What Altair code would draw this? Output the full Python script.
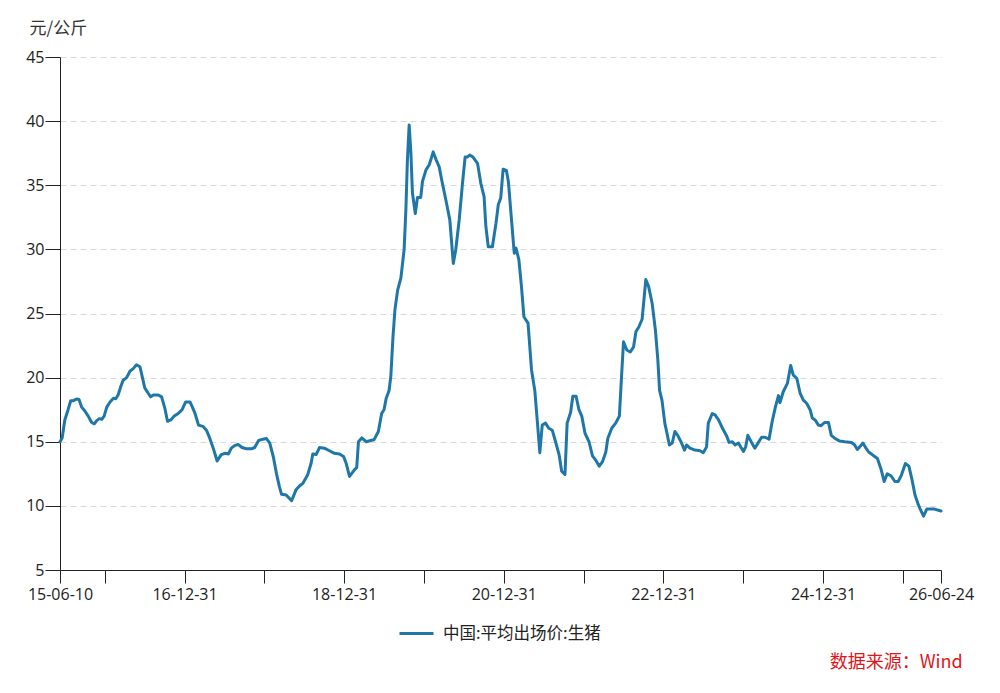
import altair as alt
import pandas as pd

dates = [
"2015-06-10","2015-06-20","2015-07-02","2015-07-17","2015-07-29","2015-08-10","2015-08-25","2015-09-05","2015-09-17","2015-10-02",
"2015-10-17","2015-11-02","2015-11-14","2015-11-25","2015-12-07","2015-12-18","2015-12-29","2016-01-10","2016-01-25","2016-02-10",
"2016-02-20","2016-03-02","2016-03-14","2016-03-25","2016-04-10","2016-04-25","2016-05-10","2016-05-25","2016-06-10","2016-06-20",
"2016-07-02","2016-07-17","2016-07-29","2016-08-10","2016-09-02","2016-09-17","2016-10-02","2016-10-14","2016-10-29","2016-11-14",
"2016-12-02","2016-12-20","2017-01-05","2017-01-25","2017-02-05","2017-02-17","2017-03-05","2017-03-25","2017-04-10","2017-04-25",
"2017-05-14","2017-05-29","2017-06-17","2017-07-05","2017-07-20","2017-08-02","2017-08-17","2017-09-02","2017-09-20","2017-10-10",
"2017-11-02","2017-11-17","2017-12-05","2017-12-25","2018-01-10","2018-01-25","2018-02-10","2018-02-25","2018-03-10","2018-03-20",
"2018-04-10","2018-05-05","2018-05-25","2018-06-10","2018-06-25","2018-07-17","2018-08-02","2018-08-10","2018-08-25","2018-09-10",
"2018-10-02","2018-10-25","2018-11-17","2018-12-10","2018-12-29","2019-01-10","2019-01-25","2019-02-14","2019-02-27","2019-03-07",
"2019-03-22","2019-04-12","2019-05-02","2019-05-17","2019-06-06","2019-06-21","2019-07-02","2019-07-12","2019-07-25","2019-08-02",
"2019-08-12","2019-08-21","2019-09-02","2019-09-17","2019-10-02","2019-10-10","2019-10-17","2019-10-25","2019-11-02","2019-11-09",
"2019-11-22","2019-12-02","2019-12-17","2019-12-25","2020-01-10","2020-01-25","2020-02-12","2020-02-25","2020-03-10","2020-03-25",
"2020-04-10","2020-04-28","2020-05-14","2020-05-25","2020-06-10","2020-06-25","2020-07-07","2020-07-17","2020-07-28","2020-08-12",
"2020-09-02","2020-09-17","2020-10-02","2020-10-10","2020-10-21","2020-11-09","2020-11-25","2020-12-06","2020-12-17","2020-12-28",
"2021-01-12","2021-01-21","2021-02-02","2021-02-12","2021-02-17","2021-02-25","2021-03-10","2021-03-22","2021-04-02","2021-04-21",
"2021-05-07","2021-05-22","2021-06-02","2021-06-14","2021-06-25","2021-07-10","2021-07-25","2021-08-10","2021-08-25","2021-09-10",
"2021-09-22","2021-10-07","2021-10-17","2021-11-02","2021-11-12","2021-11-27","2021-12-10","2021-12-23","2022-01-07","2022-01-25",
"2022-02-10","2022-02-27","2022-03-13","2022-03-28","2022-04-12","2022-04-21","2022-05-09","2022-05-27","2022-06-13","2022-06-22",
"2022-07-02","2022-07-17","2022-08-02","2022-08-17","2022-08-28","2022-09-10","2022-09-25","2022-10-02","2022-10-12","2022-10-25",
"2022-11-10","2022-11-25","2022-12-06","2022-12-14","2022-12-25","2023-01-07","2023-01-17","2023-01-28","2023-02-10","2023-02-22",
"2023-03-07","2023-03-22","2023-04-07","2023-04-17","2023-05-02","2023-05-25","2023-06-17","2023-07-02","2023-07-17","2023-07-25",
"2023-08-12","2023-08-25","2023-09-10","2023-09-28","2023-10-17","2023-10-28","2023-11-12","2023-11-25","2023-12-10","2023-12-22",
"2024-01-02","2024-01-12","2024-01-22","2024-02-08","2024-02-23","2024-03-07","2024-03-25","2024-04-10","2024-04-28","2024-05-12",
"2024-05-27","2024-06-10","2024-06-17","2024-07-02","2024-07-21","2024-08-05","2024-08-17","2024-09-02","2024-09-17","2024-10-02",
"2024-10-17","2024-11-02","2024-11-12","2024-11-25","2024-12-10","2024-12-22","2025-01-07","2025-01-25","2025-02-07","2025-02-25",
"2025-03-17","2025-04-10","2025-05-10","2025-05-25","2025-06-06","2025-06-17","2025-07-02","2025-07-12","2025-07-28","2025-08-17",
"2025-09-06","2025-09-22","2025-10-07","2025-10-21","2025-11-07","2025-11-25","2025-12-10","2025-12-25","2026-01-12","2026-01-28",
"2026-02-10","2026-02-25","2026-03-10","2026-03-22","2026-04-05","2026-04-20","2026-05-10","2026-05-25","2026-06-24",
]

prices = [
15.0,15.3,16.7,17.5,18.2,18.2,18.33,18.3,17.7,17.4,
17.0,16.5,16.4,16.65,16.8,16.75,17.0,17.7,18.1,18.4,
18.35,18.65,19.3,19.8,20.0,20.5,20.7,21.0,20.85,20.1,
19.2,18.8,18.5,18.65,18.65,18.5,17.6,16.6,16.7,17.0,
17.2,17.5,18.1,18.1,17.7,17.2,16.3,16.2,15.9,15.3,
14.35,13.5,14.0,14.1,14.05,14.5,14.7,14.8,14.55,14.45,
14.45,14.55,15.1,15.2,15.25,14.9,13.85,12.5,11.5,10.9,
10.85,10.4,11.25,11.55,11.75,12.4,13.3,14.05,14.0,14.55,
14.5,14.3,14.1,14.05,13.85,13.3,12.3,12.75,13.0,15.0,
15.3,15.0,15.1,15.15,15.8,17.2,17.5,18.4,19.0,20.1,
23.2,25.3,26.8,27.75,30.0,33.1,37.0,39.7,37.5,34.4,
32.8,34.05,34.05,35.3,36.2,36.6,37.6,37.0,36.45,35.15,
33.85,32.3,28.9,29.95,32.3,35.15,37.2,37.2,37.35,37.2,
36.7,35.15,34.1,31.8,30.2,30.2,32.0,33.5,34.0,36.25,
36.15,35.3,32.8,30.7,29.7,30.1,29.2,27.1,24.75,24.25,
20.6,19.0,16.7,14.15,16.3,16.45,16.05,15.9,15.0,14.0,
12.7,12.45,16.45,17.3,18.55,18.55,17.5,17.0,15.65,15.0,
13.9,13.5,13.1,13.45,14.2,15.25,16.05,16.45,17.0,19.8,
22.8,22.15,22.0,22.4,23.6,23.95,24.55,25.8,27.65,27.1,
25.8,23.7,21.4,19.0,18.25,16.45,15.65,14.75,14.9,15.8,
15.5,15.0,14.35,14.75,14.5,14.35,14.3,14.15,14.6,16.45,
17.2,17.1,16.7,16.05,15.45,14.95,15.0,14.75,14.9,14.55,
14.25,14.6,15.5,14.95,14.5,14.85,15.35,15.35,15.2,16.55,
17.7,18.6,18.05,18.9,19.55,20.95,20.2,19.95,18.8,18.25,
18.0,17.5,16.85,16.7,16.3,16.25,16.5,16.5,15.5,15.25,
15.05,15.0,14.95,14.75,14.4,14.6,14.9,14.6,14.2,13.95,
13.7,12.9,11.9,12.5,12.35,11.9,11.9,12.4,13.3,13.1,
12.15,10.85,10.2,9.7,9.2,9.75,9.75,9.75,9.6,
]

series_name = "中国:平均出场价:生猪"
y_title = "元/公斤"
source_text = "数据来源：Wind"
y_ticks = [5, 10, 15, 20, 25, 30, 35, 40, 45]

df = pd.DataFrame({"date": dates, "price": prices, "series": [series_name] * len(dates)})

tick_dates = [
    alt.DateTime(year=2015, month=6, date=10),
    alt.DateTime(year=2015, month=12, date=31),
    alt.DateTime(year=2016, month=12, date=31),
    alt.DateTime(year=2017, month=12, date=31),
    alt.DateTime(year=2018, month=12, date=31),
    alt.DateTime(year=2019, month=12, date=31),
    alt.DateTime(year=2020, month=12, date=31),
    alt.DateTime(year=2021, month=12, date=31),
    alt.DateTime(year=2022, month=12, date=31),
    alt.DateTime(year=2023, month=12, date=31),
    alt.DateTime(year=2024, month=12, date=31),
    alt.DateTime(year=2025, month=12, date=31),
    alt.DateTime(year=2026, month=6, date=24),
]

FONT = "Open Sans"
CJK = "Noto Sans CJK SC"
LINE_COLOR = "#1f77a8"

chart = alt.Chart(df).mark_line(strokeWidth=3, strokeJoin="round", strokeCap="round").encode(
    x=alt.X(
        "date:T",
        scale=alt.Scale(domain=[alt.DateTime(year=2015, month=6, date=10),
                                alt.DateTime(year=2026, month=6, date=24)]),
        axis=alt.Axis(
            title=None,
            values=tick_dates,
            labelExpr="(month(datum.value)==11 && year(datum.value)%2==1) ? '' : timeFormat(datum.value, '%y-%m-%d')",
            grid=False,
            tickSize=13,
            tickColor="#222",
            domainColor="#222",
            labelFont=FONT,
            labelFontSize=16,
            labelColor="#222",
            labelPadding=3,
            labelOverlap=False,
            labelFlush=False,
        ),
    ),
    y=alt.Y(
        "price:Q",
        scale=alt.Scale(domain=[5, 45], nice=False, zero=False),
        axis=alt.Axis(
            title=y_title,
            titleAngle=0,
            titleAlign="left",
            titleBaseline="middle",
            titleX=-31,
            titleY=-29,
            titleFont=CJK,
            titleFontSize=17,
            titleFontWeight="normal",
            titleColor="#333",
            values=y_ticks,
            grid=True,
            gridDash=[6, 4],
            gridColor="#d9d9d9",
            gridWidth=1,
            tickSize=15,
            tickColor="#222",
            domainColor="#222",
            labelFont=FONT,
            labelFontSize=16,
            labelColor="#222",
            labelPadding=1,
        ),
    ),
    color=alt.Color(
        "series:N",
        scale=alt.Scale(range=[LINE_COLOR]),
        legend=alt.Legend(
            title=None,
            orient="none",
            legendX=338,
            legendY=558,
            symbolType="stroke",
            symbolStrokeWidth=3,
            symbolSize=1156,
            labelFont=CJK,
            labelFontSize=16.5,
            labelColor="#222",
            labelOffset=8,
        ),
    ),
).properties(
    width=881,
    height=513,
    padding={"left": 52, "top": 49, "right": 50, "bottom": 125},
    autosize="none",
    title=alt.TitleParams(
        text=source_text,
        orient="bottom",
        anchor="end",
        color="#e0161b",
        font=CJK,
        fontSize=18,
        fontWeight="normal",
        offset=12,
        dx=-11,
    ),
).configure_view(stroke=None)

chart.save("out.html", embed_options={"renderer": "svg", "actions": False})
